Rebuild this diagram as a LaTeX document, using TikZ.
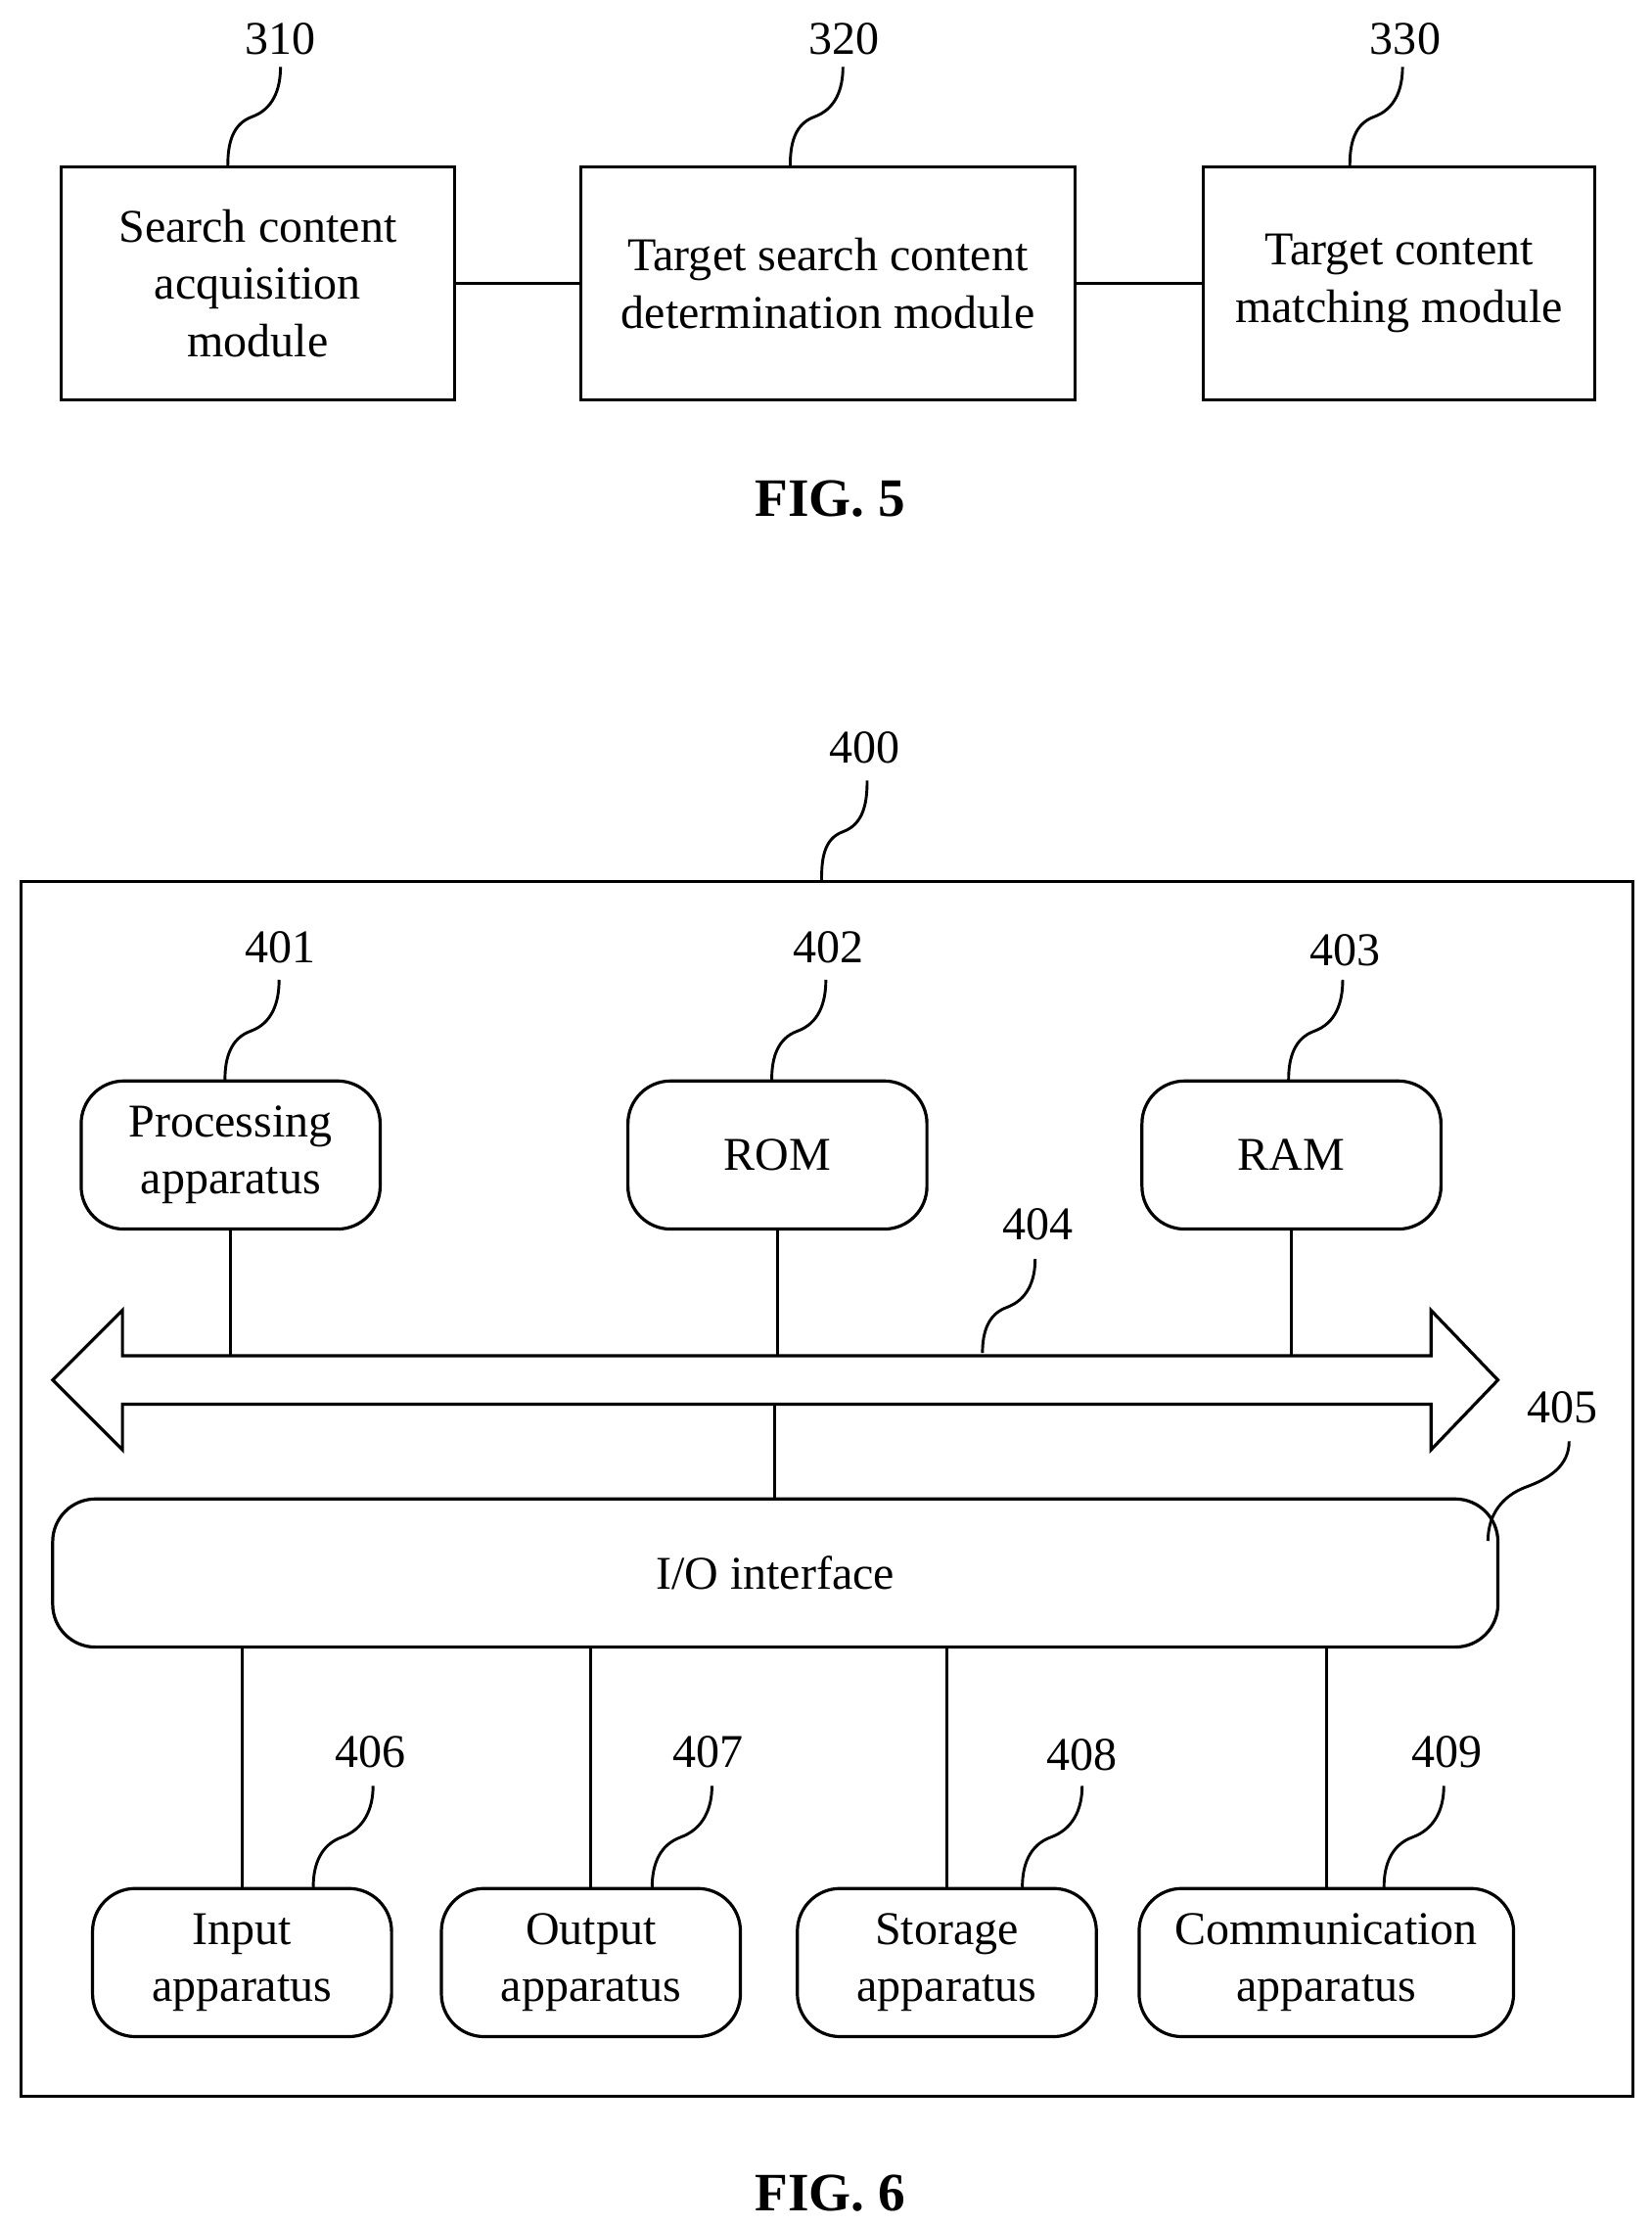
\documentclass[tikz,border=0pt]{standalone}
\usepackage{fontspec}
\setmainfont{Liberation Serif}
\begin{document}
\begin{tikzpicture}[x=1pt,y=-1pt,line width=2.2pt,
  box/.style={draw,minimum width=#1,minimum height=164,inner sep=0pt,align=center,font=\fontsize{33}{40}\selectfont},
  rbox/.style={draw,rounded corners=30,minimum width=#1,minimum height=104,inner sep=0pt,align=center,font=\fontsize{33}{40}\selectfont},
  lab/.style={font=\fontsize{33}{40}\selectfont,inner sep=1pt},
  fig/.style={font=\fontsize{38}{44}\selectfont\bfseries},
  sq/.style={line width=2pt}]
\useasboundingbox (0,0) rectangle (1160,1563);
% FIG 5
\node[box=276] (b1) at (181,199) {Search content\\acquisition\\module};
\node[box=347] (b2) at (581.5,199) {Target search content\\determination module};
\node[box=275] (b3) at (982.5,199) {Target content\\matching module};
\draw (b1) -- (b2); \draw (b2) -- (b3);
\node[lab] (l310) at (197,27) {310};
\node[lab] (l320) at (593,27) {320};
\node[lab] (l330) at (987,27) {330};
\foreach \x/\l in {160/l310,555/l320,948/l330}{
  \draw[sq] (\x,116) to[out=90,in=200] ({\x+17},82) to[out=20,in=-90] ({\x+37},47);}
\node[fig] (f5) at (583,350) {FIG. 5};
% FIG 6
\node[draw,minimum width=1132,minimum height=853,inner sep=0pt] (outer) at (581,1045.5) {};
\node[lab] (l400) at (607,525) {400};
\draw[sq] (577,618) to[out=90,in=200] (592,584) to[out=20,in=-90] (609,548);
\node[rbox=210] (p) at (162,811) {Processing\\apparatus};
\node[rbox=210] (rom) at (546,811) {ROM};
\node[rbox=210] (ram) at (907,811) {RAM};
\node[lab] (l401) at (197,665) {401};
\node[lab] (l402) at (582,665) {402};
\node[lab] (l403) at (945,667) {403};
\foreach \x in {158,542,905}{
  \draw[sq] (\x,758) to[out=90,in=200] ({\x+18},724) to[out=20,in=-90] ({\x+38},688);}
% bus
\draw[line join=miter] (86,952) -- (1005,952) -- (1005,920) -- (1052,969) -- (1005,1018) -- (1005,986)
  -- (86,986) -- (86,1018) -- (37,969) -- (86,920) -- cycle;
\coordinate (bp) at (162,952); \coordinate (brom) at (546,952); \coordinate (bram) at (907,952);
\draw (p) -- (bp); \draw (rom) -- (brom); \draw (ram) -- (bram);
\node[lab] (l404) at (729,860) {404};
\draw[sq] (690,950) to[out=90,in=200] (707,918) to[out=20,in=-90] (727,884);
\node[rbox=1015] (io) at (544.5,1104.5) {I/O interface};
\coordinate (bio) at (544,986);
\draw (bio) -- (io.north -| bio);
\node[lab] (l405) at (1097,988) {405};
\draw[sq] (1045,1082) to[out=90,in=200] (1072,1044) to[out=20,in=-90] (1102,1012);
\node[rbox=210] (in) at (170,1378) {Input\\apparatus};
\node[rbox=210] (out) at (415,1378) {Output\\apparatus};
\node[rbox=210] (st) at (665,1378) {Storage\\apparatus};
\node[rbox=263] (cm) at (931.5,1378) {Communication\\apparatus};
\foreach \n in {in,out,st,cm}{ \draw (io.south -| \n) -- (\n); }
\node[lab] (l406) at (260,1230) {406};
\node[lab] (l407) at (497,1230) {407};
\node[lab] (l408) at (760,1232) {408};
\node[lab] (l409) at (1016,1230) {409};
\foreach \x in {220,458,718,972}{
  \draw[sq] (\x,1325) to[out=90,in=200] ({\x+20},1290) to[out=20,in=-90] ({\x+42},1254);}
\node[fig] (f6) at (583,1540) {FIG. 6};
\end{tikzpicture}
\end{document}
